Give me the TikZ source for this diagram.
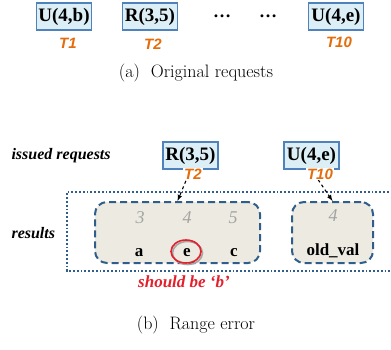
\documentclass[tikz,border=0pt]{standalone}
\usepackage{fontspec}
\newfontfamily\tms{Liberation Serif}
\newfontfamily\arl{Liberation Sans}
\usepackage{tikz}
\usetikzlibrary{positioning}
\definecolor{reqfill}{HTML}{DCEEF6}
\definecolor{reqline}{HTML}{4F81BD}
\definecolor{tidcol}{HTML}{E46C0A}
\definecolor{resfill}{HTML}{EDEBE1}
\definecolor{resline}{HTML}{2F5D8C}
\definecolor{keycol}{HTML}{A3A3A3}
\definecolor{errcol}{HTML}{E3202B}

\begin{document}
\begin{tikzpicture}[x=1pt,y=-1pt,>=latex,
  req/.style={draw=reqline,fill=reqfill,line width=1.6pt,minimum width=55pt,minimum height=27pt,inner sep=1pt,font=\tms\bfseries\fontsize{19}{20}\selectfont},
  tid/.style={text=tidcol,fill=white,inner sep=1pt,font=\arl\bfseries\itshape\fontsize{15}{15}\selectfont},
  resbox/.style={draw=resline,fill=resfill,line width=2pt,dash pattern=on 7pt off 4pt,rounded corners=12pt,minimum height=61pt},
  keynum/.style={anchor=base,text=keycol,font=\tms\itshape\fontsize{18}{18}\selectfont},
  val/.style={anchor=base,font=\tms\bfseries\fontsize{17}{17}\selectfont},
  rowlab/.style={anchor=base west,font=\tms\bfseries\itshape\fontsize{16}{16}\selectfont},
  link/.style={->,dashed,line width=1.1pt},
  caption/.style={font=\fontsize{18}{18}\selectfont}]
  \useasboundingbox (0,0) rectangle (391,350);

  % (a) original requests
  \node[req] (ub) at (64,16.5) {U(4,b)};
  \node[req] (rq) at (150,16.5) {R(3,5)};
  \node[font=\tms\bfseries\fontsize{18}{18}\selectfont] (dots1) at (222,16) {…};
  \node[font=\tms\bfseries\fontsize{18}{18}\selectfont] (dots2) at (268,16) {…};
  \node[req] (ue) at (336,16.5) {U(4,e)};
  \node[tid] (t1) at (68,43) {T1};
  \node[tid] (t2) at (153,44) {T2};
  \node[tid] (t10) at (339,42) {T10};
  \node[caption] (capa) at (196,73) {(a)\ \ Original requests};

  % (b) range error
  \node[rowlab] (issued) at (8,160) {issued requests};
  \node[rowlab] (results) at (8,238) {results};
  \draw[resline,line width=1.8pt,dotted] (400,192) -- (67,192) -- (67,271) -- (400,271);
  \node[resbox,minimum width=165pt] (res1) at (177.5,232.5) {};
  \node[resbox,minimum width=81pt] (res2) at (332.5,232.5) {};
  \node[req] (rqb) at (190.5,155.5) {R(3,5)};
  \node[req] (ueb) at (311.5,155.5) {U(4,e)};
  \draw[link] (rqb.south) -- (res1.north);
  \draw[link] (ueb.south) -- (res2.north);
  \node[tid] (t2b) at (193,174) {T2};
  \node[tid] (t10b) at (320,174) {T10};

  \node[keynum] (k3) at (140,223) {3};
  \node[keynum] (k4) at (187,223) {4};
  \node[keynum] (k5) at (233,223) {5};
  \node[keynum] (k4b) at (333,221) {4};
  \draw[black!35,line width=1.6pt] (187.5,253) ellipse (15pt and 11.5pt);
  \draw[errcol,line width=1.6pt] (186,251.5) ellipse (15pt and 11.5pt);
  \node[val] (va) at (139,256) {a};
  \node[val] (ve) at (187,256) {e};
  \node[val] (vc) at (234,256) {c};
  \node[val] (vold) at (333,255) {old\_val};
  \node[text=errcol,font=\tms\bfseries\itshape\fontsize{17}{17}\selectfont] (should) at (184,282) {should be ‘b’};
  \node[caption] (capb) at (196,325) {(b)\ \ Range error};
\end{tikzpicture}
\end{document}
